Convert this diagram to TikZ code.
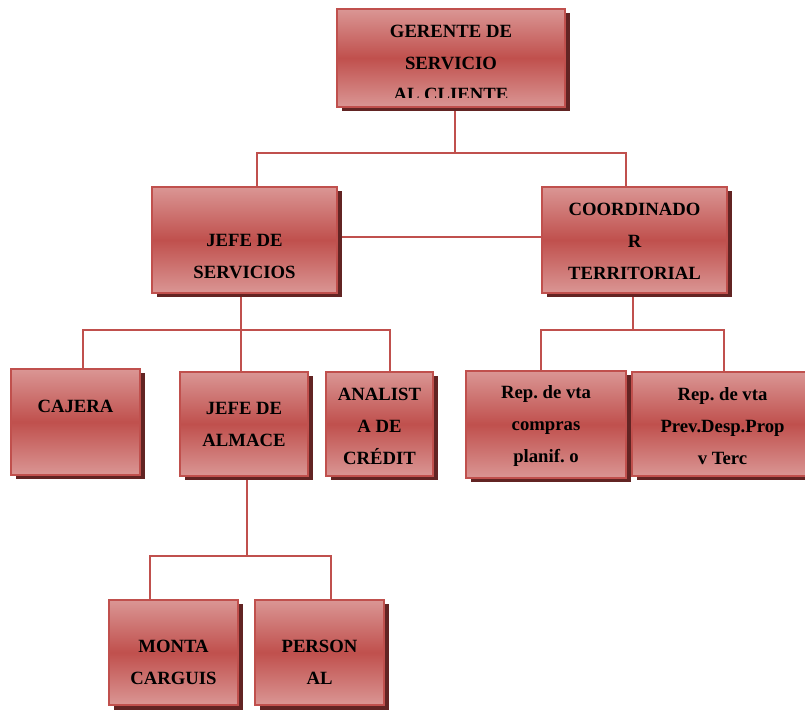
\documentclass[tikz,border=0pt]{standalone}
\usepackage{fontspec}
\setmainfont{Liberation Serif}
\usetikzlibrary{shadows,backgrounds}
\definecolor{lightred}{RGB}{218,150,148}
\definecolor{midred}{RGB}{192,80,77}
\definecolor{shadowred}{RGB}{98,36,35}
\frenchspacing
\tikzset{
  box/.style={rectangle, draw=midred, line width=2.4pt,
    top color=lightred, bottom color=lightred, middle color=midred,
    general shadow={fill=shadowred, shadow xshift=4.5pt, shadow yshift=-4.5pt},
    inner sep=0pt},
  lbl/.style={font=\fontsize{18.7}{32}\selectfont\bfseries, align=center, inner sep=0pt, text=black},
  conn/.style={draw=midred, line width=2pt}
}
\begin{document}
\begin{tikzpicture}[x=1pt,y=1pt]
\useasboundingbox (0,0) rectangle (805,709);
\begin{scope}
\clip (0,0) rectangle (805,709);
% boxes
\node[box, minimum width=228pt, minimum height=98pt] (g) at (451,651) {};
\node[box, minimum width=185pt, minimum height=106pt] (js) at (244.5,469) {};
\node[box, minimum width=185pt, minimum height=106pt] (co) at (634.5,469) {};
\node[box, minimum width=129pt, minimum height=106pt] (ca) at (75.5,287) {};
\node[box, minimum width=128pt, minimum height=104pt] (al) at (244,285) {};
\node[box, minimum width=107pt, minimum height=104pt] (an) at (379.5,285) {};
\node[box, minimum width=160pt, minimum height=107pt] (r1) at (546,284.5) {};
\node[box, minimum width=181pt, minimum height=104pt] (r2) at (722.5,285) {};
\node[box, minimum width=129pt, minimum height=105pt] (mo) at (173.5,56.5) {};
\node[box, minimum width=129pt, minimum height=105pt] (pe) at (319.5,56.5) {};
% texts
\begin{scope}
\clip (337,611) rectangle (565,700);
\node[lbl, font=\fontsize{18.7}{31.5}\selectfont\bfseries] (tg) at (451,646) {GERENTE DE\\SERVICIO\\AL CLIENTE};
\end{scope}
\node[lbl] (tjs) at (244.5,452) {JEFE DE\\SERVICIOS};
\node[lbl] (tco) at (634.5,468) {COORDINADO\\R\\TERRITORIAL};
\node[lbl] (tca) at (75.5,303) {CAJERA};
\node[lbl] (tal) at (244,284.5) {JEFE DE\\ALMACE};
\node[lbl] (tan) at (379.5,283) {ANALIST\\A DE\\CRÉDIT};
\node[lbl] (tr1) at (546,282.5) {Rep. de vta\\compras\\planif. o};
\node[lbl] (tr2) at (722.5,282.5) {Rep. de vta\\Prev.Desp.Prop\\v Terc};
\node[lbl] (tmo) at (173.5,47) {MONTA\\CARGUIS};
\node[lbl] (tpe) at (319.5,47) {PERSON\\AL};
% connectors
\begin{scope}[on background layer]
\draw[conn] ([xshift=4pt]g.south) -- ++(0,-45) coordinate (h1);
\draw[conn] ([xshift=12.5pt]js.north) |- (h1) -| ([xshift=-8.5pt]co.north);
\draw[conn] ([yshift=3pt]js.east) -- ([yshift=3pt]co.west);
\draw[conn] ([xshift=-3.5pt]js.south) -- ++(0,-36) coordinate (h2);
\draw[conn] ([xshift=7.5pt]ca.north) |- (h2) -| ([xshift=10.5pt]an.north);
\draw[conn] (h2) -- ([xshift=-3pt]al.north);
\draw[conn] ([xshift=-1.5pt]co.south) -- ++(0,-36) coordinate (h3);
\draw[conn] ([xshift=-5pt]r1.north) |- (h3) -| ([xshift=1.5pt]r2.north);
\draw[conn] ([xshift=3pt]al.south) -- ++(0,-79) coordinate (h4);
\draw[conn] ([xshift=-23.5pt]mo.north) |- (h4) -| ([xshift=11.5pt]pe.north);
\end{scope}
\end{scope}
\end{tikzpicture}
\end{document}
